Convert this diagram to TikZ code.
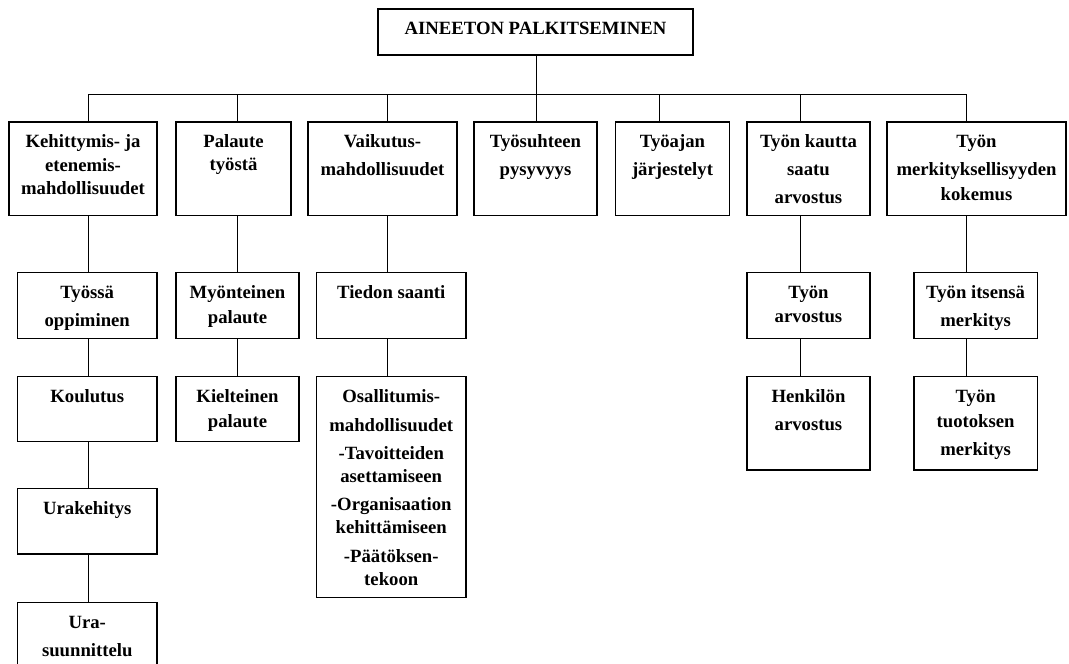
\documentclass[tikz,border=0pt]{standalone}
\usepackage{fontspec}
\setmainfont{Liberation Serif}
\tikzset{
  boxst/.style={draw=black, line width=1.1pt, inner sep=0pt},
  txt/.style={inner sep=0pt, align=center, font=\fontsize{18.7}{28}\selectfont\bfseries},
  conn/.style={draw=black, line width=0.8pt}
}
\newcommand\mybox[6]{%
  \pgfmathsetmacro\mbW{#4-#2}\pgfmathsetmacro\mbH{#5-#3}%
  \pgfmathsetmacro\mbX{(#2+#4)/2}\pgfmathsetmacro\mbY{(#3+#5)/2}\pgfmathsetmacro\mbT{#3+11.5}%
  \node[boxst, minimum width=\mbW pt, minimum height=\mbH pt] (#1) at (\mbX,\mbY) {};
  \node[txt, anchor=north] (#1t) at (\mbX,\mbT) {\rule{0pt}{14pt}#6};}
\begin{document}
\begin{tikzpicture}[x=1pt,y=-1pt]
\fill[white] (0,0) rectangle (1069,664);
\useasboundingbox (0,0) rectangle (1069,664);

\mybox{top}{378}{9}{693}{55}{AINEETON PALKITSEMINEN}
\mybox{b1}{9}{122}{157}{215.5}{Kehittymis- ja\\[-4.5pt]etenemis-\\[-4.5pt]mahdollisuudet}
\mybox{b2}{176}{122}{291}{215.5}{Palaute\\[-5pt]työstä}
\mybox{b3}{308}{122}{457}{215.5}{Vaikutus-\\mahdollisuudet}
\mybox{b4}{474}{122}{597}{215.5}{Työsuhteen\\pysyvyys}
\mybox{b5}{615.5}{122}{729.5}{215.5}{Työajan\\järjestelyt}
\mybox{b6}{747}{122}{870}{215.5}{Työn kautta\\saatu\\arvostus}
\mybox{b7}{887}{122}{1066}{215.5}{Työn\\merkityksellisyyden\\[-3pt]kokemus}

\mybox{c1a}{17.5}{272.5}{157}{338.3}{Työssä\\oppiminen}
\mybox{c1b}{17.5}{376.5}{157}{441.7}{Koulutus}
\mybox{c1c}{17.5}{488.7}{157}{554}{Urakehitys}
\mybox{c1d}{17.5}{602.3}{157}{690}{Ura-\\suunnittelu}

\mybox{c2a}{176}{272.5}{299}{338.3}{Myönteinen\\[-3pt]palaute}
\mybox{c2b}{176}{376.5}{299}{441.7}{Kielteinen\\[-3pt]palaute}

\mybox{c3a}{316.5}{272.5}{466}{338.3}{Tiedon saanti}
\mybox{c3b}{316.5}{376.5}{466}{597.7}{Osallitumis-\\[1pt]mahdollisuudet\\-Tavoitteiden\\[-4.5pt]asettamiseen\\-Organisaation\\[-5pt]kehittämiseen\\[1pt]-Päätöksen-\\[-5.5pt]tekoon}

\mybox{c6a}{747}{272.5}{870}{338.3}{Työn\\[-4pt]arvostus}
\mybox{c6b}{747}{376.5}{870}{470}{Henkilön\\arvostus}

\mybox{c7a}{914}{272.5}{1037.3}{338.3}{Työn itsensä\\merkitys}
\mybox{c7b}{914}{376.5}{1037.3}{470}{Työn\\[-3pt]tuotoksen\\merkitys}

\coordinate (j1) at (88.5,94);
\coordinate (j2) at (237.3,94);
\coordinate (j3) at (387,94);
\coordinate (j4) at (536.5,94);
\coordinate (j5) at (659,94);
\coordinate (j6) at (800,94);
\coordinate (j7) at (966.7,94);

\draw[conn] (top.south -| j4) -- (j4);
\draw[conn] (j1) -- (j7);
\foreach \k in {1,...,7} { \draw[conn] (j\k) -- (j\k |- b\k.north); }

\draw[conn] (b1.south -| j1) -- (c1a.north -| j1);
\draw[conn] (c1a.south -| j1) -- (c1b.north -| j1);
\draw[conn] (c1b.south -| j1) -- (c1c.north -| j1);
\draw[conn] (c1c.south -| j1) -- (c1d.north -| j1);

\draw[conn] (b2.south -| j2) -- (c2a.north -| j2);
\draw[conn] (c2a.south -| j2) -- (c2b.north -| j2);

\draw[conn] (b3.south -| j3) -- (c3a.north -| j3);
\draw[conn] (c3a.south -| j3) -- (c3b.north -| j3);

\draw[conn] (b6.south -| j6) -- (c6a.north -| j6);
\draw[conn] (c6a.south -| j6) -- (c6b.north -| j6);

\draw[conn] (b7.south -| j7) -- (c7a.north -| j7);
\draw[conn] (c7a.south -| j7) -- (c7b.north -| j7);
\end{tikzpicture}
\end{document}
